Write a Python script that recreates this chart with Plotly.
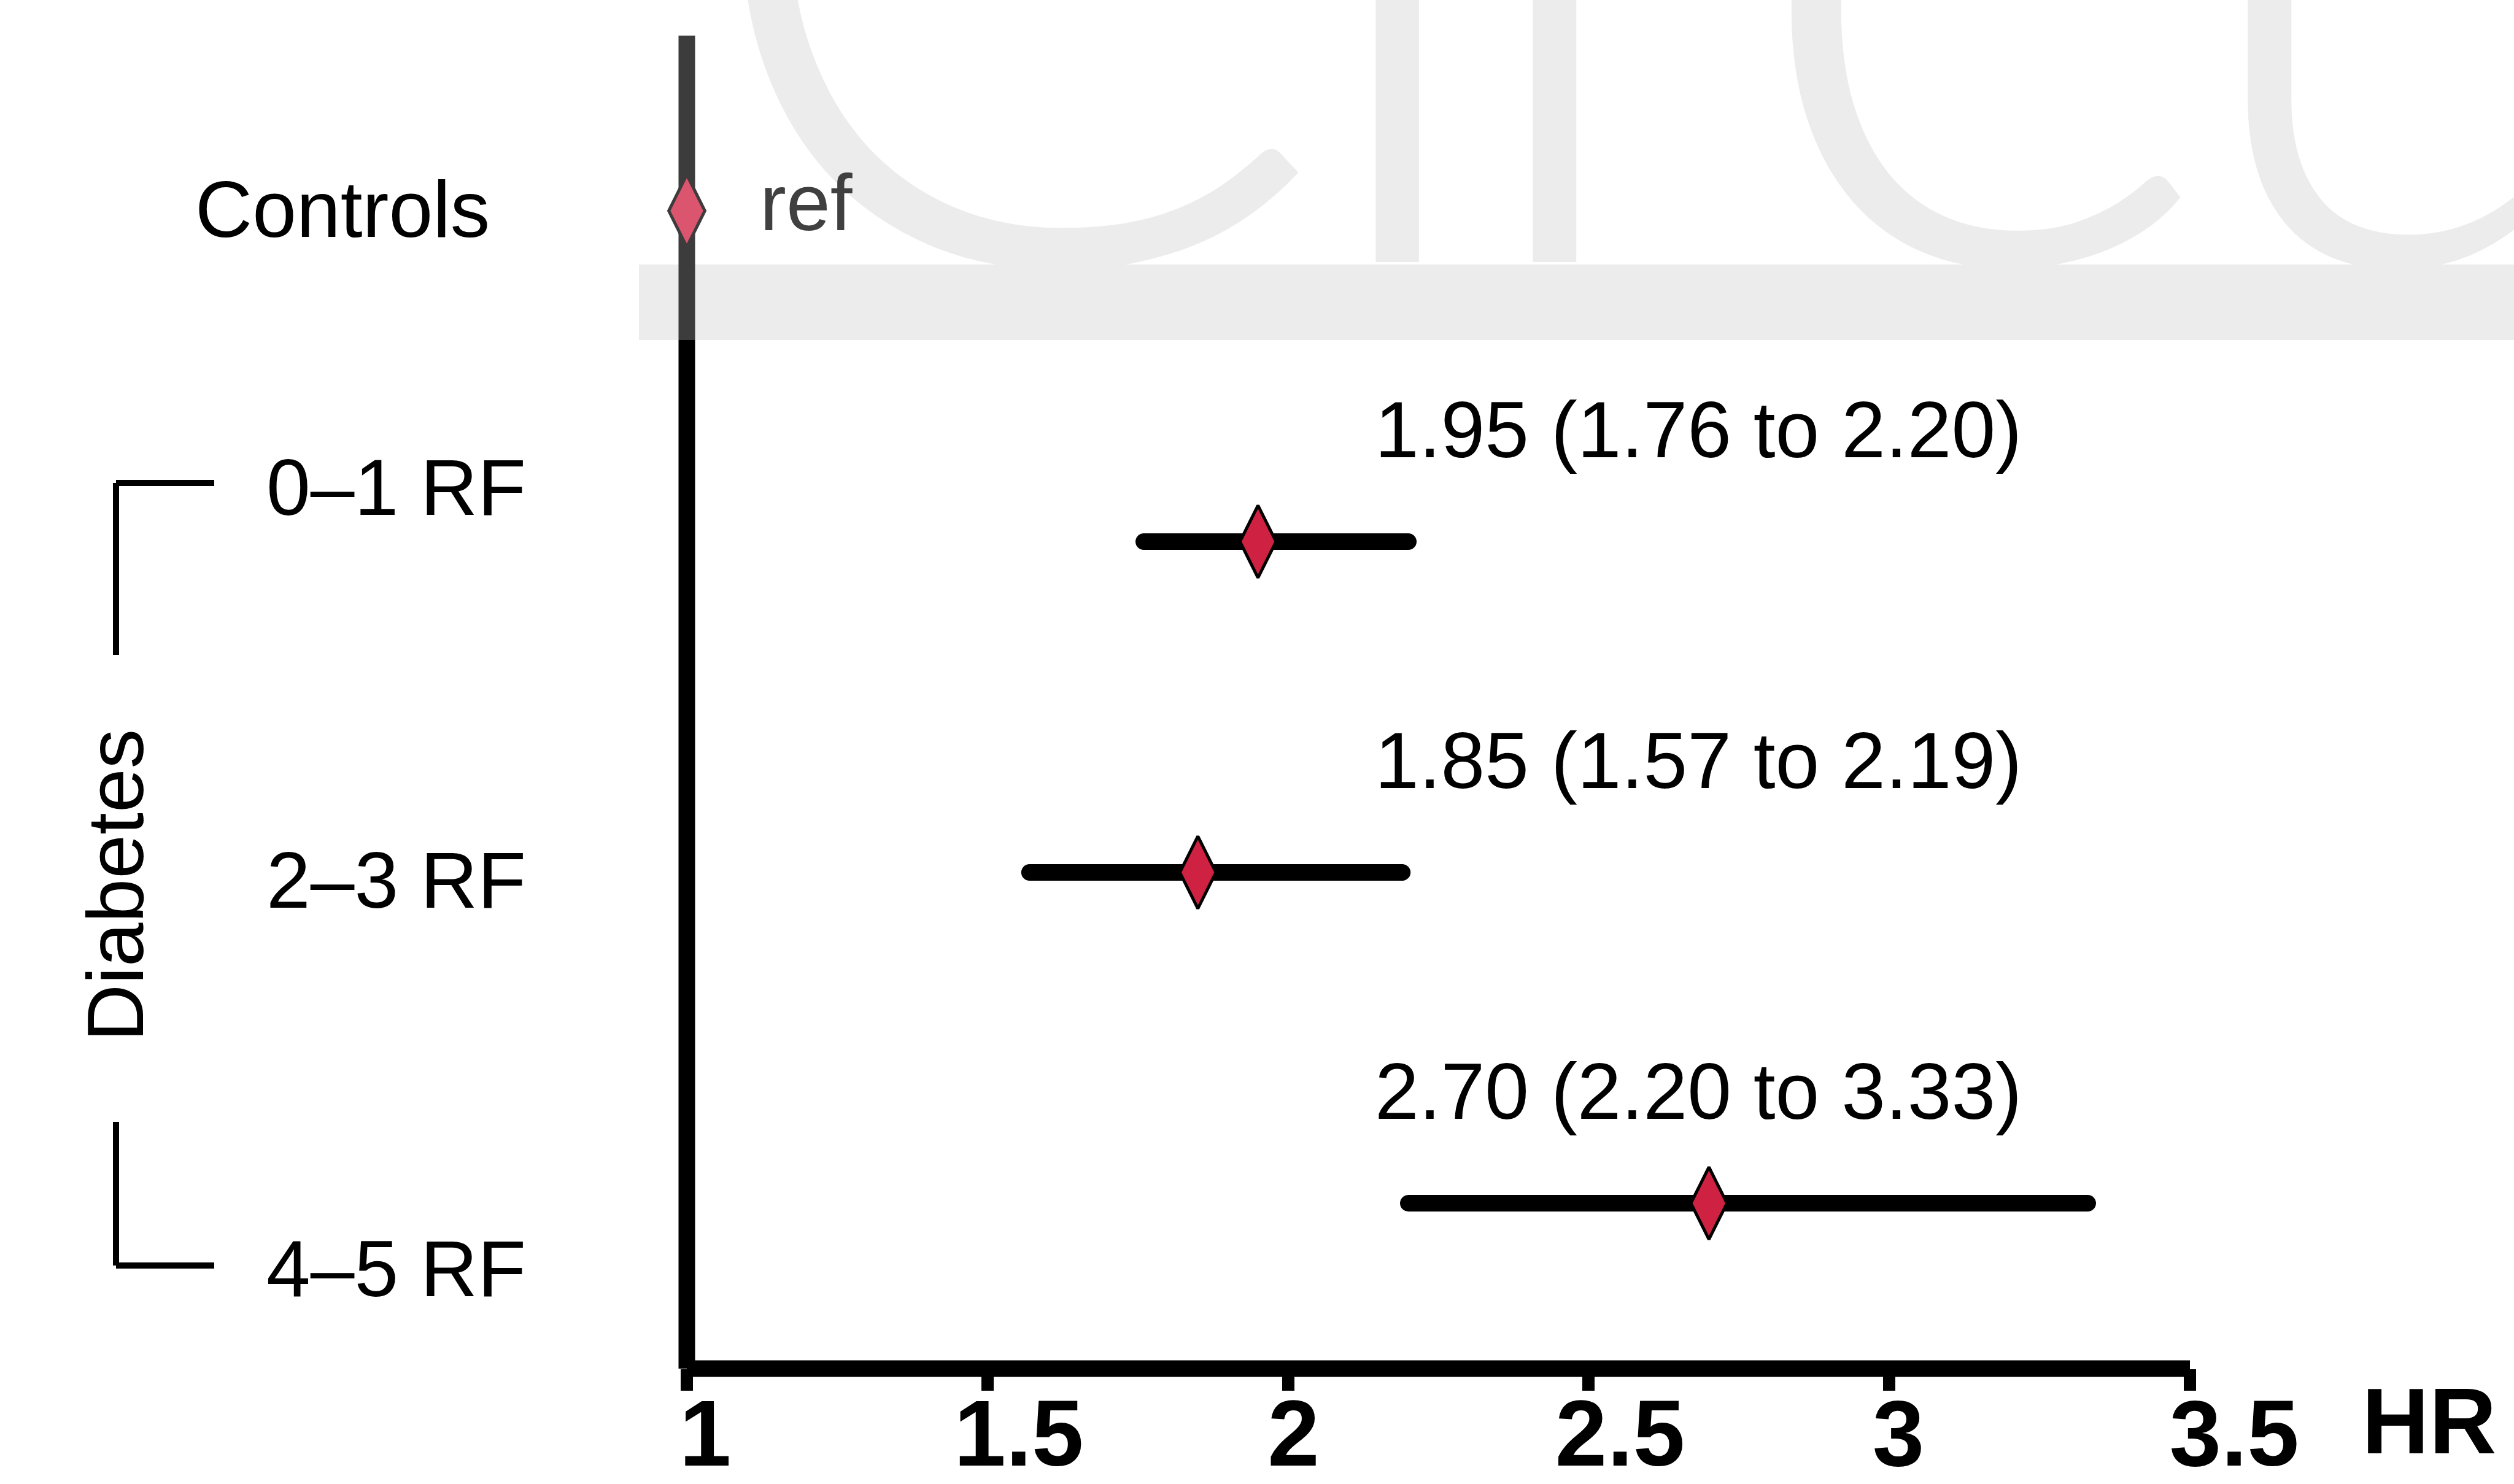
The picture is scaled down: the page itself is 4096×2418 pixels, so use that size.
import plotly.graph_objects as go

# ---------------- data ----------------
categories = ["Controls", "0–1 RF", "2–3 RF", "4–5 RF"]
row_pos = [4, 3, 2, 1]
hr = [1.00, 1.95, 1.85, 2.70]
ci_low = [None, 1.76, 1.57, 2.20]
ci_high = [None, 2.20, 2.19, 3.33]
tick_vals = [1, 1.5, 2, 2.5, 3, 3.5]
tick_text = ["1", "1.5", "2", "2.5", "3", "3.5"]
group_label = "Diabetes"
axis_title = "HR"
ref_label = "ref"
watermark_letters = ["C", "i", "r", "c", "u"]

# ---------------- layout geometry (window px) ----------------
WIN_W, WIN_H = 4096, 2418
L, R, T, B = 1119, 3568, 58, 2230
PW, PH = R - L, B - T
FONT = "Liberation Sans, Arial, sans-serif"
FS = 129
NB, TH = "\u00a0", "\u2009"
# invisible padding to nudge individual tick labels as in the original typesetting
tick_pad = [("", ""), (NB, ""), ("", NB), (NB, ""), ("", TH), (NB + NB, "")]
tick_text_styled = [a + t + b for t, (a, b) in zip(tick_text, tick_pad)]


def px_x(p):
    return (p - L) / PW


def px_y(p):
    return (B - p) / PH


fig = go.Figure()

# CI lines (with round caps via end markers)
for lo, hi, yy in zip(ci_low, ci_high, row_pos):
    if lo is None:
        continue
    fig.add_trace(go.Scatter(
        x=[lo, hi], y=[yy, yy], mode="lines+markers",
        line=dict(color="black", width=27),
        marker=dict(color="black", size=27, symbol="circle", line=dict(width=0)),
        cliponaxis=False, showlegend=False, hoverinfo="skip"))

# point estimates
fig.add_trace(go.Scatter(
    x=hr, y=row_pos, mode="markers",
    marker=dict(symbol="diamond-tall", size=84, color="#CF2141",
                line=dict(color="black", width=5)),
    cliponaxis=False, showlegend=False))

shapes = []
# axis lines
shapes.append(dict(type="line", xref="paper", yref="paper", x0=0, x1=0, y0=0, y1=1,
                   line=dict(color="black", width=27), layer="below"))
shapes.append(dict(type="line", xref="paper", yref="paper", x0=0, x1=1, y0=0, y1=0,
                   line=dict(color="black", width=27), layer="below"))
# bracket for Diabetes group
bx, bx2 = 189, 349
for (xa, ya, xb, yb) in [(bx, 787, bx2, 787), (bx, 787, bx, 1067),
                         (bx, 1828, bx, 2062), (bx, 2062, bx2, 2062)]:
    shapes.append(dict(type="line", xref="paper", yref="paper",
                       x0=px_x(xa), y0=px_y(ya), x1=px_x(xb), y1=px_y(yb),
                       line=dict(color="black", width=10)))
# watermark overlay
shapes.append(dict(type="rect", xref="paper", yref="paper",
                   x0=px_x(1041), x1=px_x(WIN_W + 20), y0=px_y(431), y1=px_y(-20),
                   fillcolor="white", opacity=0.235, line=dict(width=0), layer="above"))
shapes.append(dict(type="rect", xref="paper", yref="paper",
                   x0=px_x(1041), x1=px_x(WIN_W + 20), y0=px_y(554), y1=px_y(431),
                   fillcolor="rgb(194,194,194)", opacity=0.31, line=dict(width=0), layer="above"))

ann = []
# watermark letters (baseline on the band top at y=431 px)
wm_x = [1642, 2276, 2637, 3222, 3955]
wm_size = [1550, 1480, 1480, 1650, 1480]
for letter, xc, sz in zip(watermark_letters, wm_x, wm_size):
    ann.append(dict(text=letter, xref="paper", yref="paper", x=px_x(xc),
                    y=px_y(431 + 0.2115 * sz),
                    xanchor="center", yanchor="bottom", showarrow=False,
                    font=dict(family="Lato", size=sz, color="#ECECEC", weight=300)))

# category labels
lab_pos = [(800, 341), (859, 794), (859, 1434), (859, 2067)]
for cat, (xr, yc) in zip(categories, lab_pos):
    ann.append(dict(text=cat, xref="paper", yref="paper", x=px_x(xr), y=px_y(yc),
                    xanchor="right", yanchor="middle", showarrow=False,
                    font=dict(family=FONT, size=FS, color="black")))
ann.append(dict(text=group_label, xref="paper", yref="paper", x=px_x(188), y=px_y(1443),
                xanchor="center", yanchor="middle", textangle=-90, showarrow=False,
                font=dict(family=FONT, size=FS, color="black")))
# CI labels
for h, lo, hi, yy in zip(hr, ci_low, ci_high, row_pos):
    if lo is None:
        continue
    ann.append(dict(text=f"{h:.2f} ({lo:.2f} to {hi:.2f})", xref="paper", yref="y",
                    x=px_x(3296), y=yy + 0.338, xanchor="right", yanchor="middle",
                    showarrow=False, font=dict(family=FONT, size=FS, color="black")))
# ref label
ann.append(dict(text=ref_label, xref="paper", yref="y", x=px_x(1236), y=row_pos[0] + 0.025,
                xanchor="left", yanchor="middle", showarrow=False,
                font=dict(family=FONT, size=FS, color="#404040")))
# HR axis title
ann.append(dict(text=axis_title, xref="paper", yref="paper", x=px_x(3958), y=px_y(2315),
                xanchor="center", yanchor="middle", showarrow=False,
                font=dict(family=FONT, size=152, color="black", weight="bold")))

fig.update_layout(
    width=WIN_W, height=WIN_H, autosize=False,
    margin=dict(l=L, r=WIN_W - R, t=T, b=WIN_H - B, pad=0),
    paper_bgcolor="white", plot_bgcolor="rgba(0,0,0,0)",
    shapes=shapes, annotations=ann, showlegend=False,
    xaxis=dict(range=[1, 3.5], tickvals=tick_vals, ticktext=tick_text_styled,
               showline=False, showgrid=False, zeroline=False, automargin=False,
               ticks="outside", ticklen=35, tickwidth=20, tickcolor="black",
               ticklabelshift=30, ticklabelstandoff=-60,
               tickfont=dict(family=FONT, size=152, color="black", weight="bold")),
    yaxis=dict(range=[0.5, 0.5 + PH / 539.0], showline=False, showgrid=False,
               zeroline=False, showticklabels=False, ticks="", automargin=False),
)

fig.write_html("out.html")
